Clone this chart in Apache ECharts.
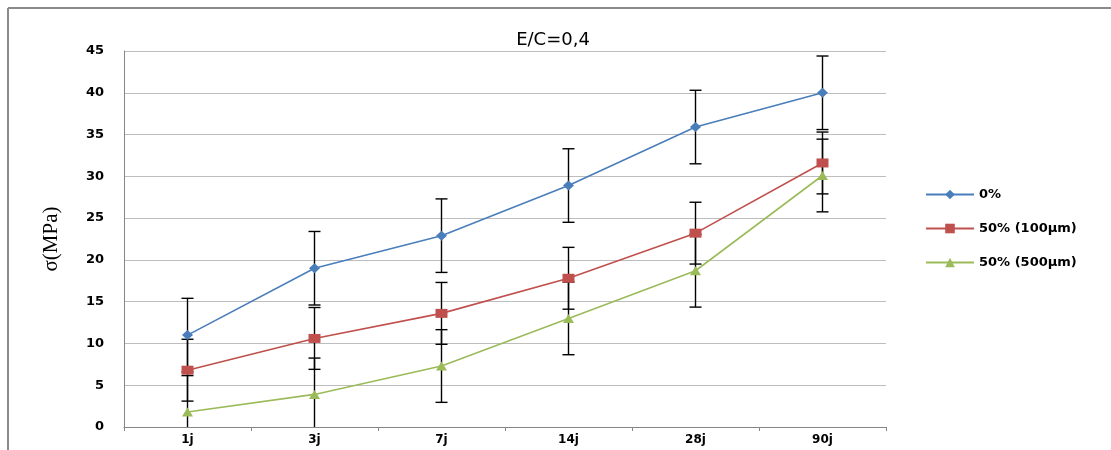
<!DOCTYPE html>
<html>
<head>
<meta charset="utf-8">
<script src="https://cdn.jsdelivr.net/npm/echarts@6/dist/echarts.min.js"></script>
<style>
html,body{margin:0;padding:0;background:#fff;}
#chart{width:1111px;height:450px;}
</style>
</head>
<body>
<div id="chart"></div>
<script>
// ---- data ----
const categories = ['1j', '3j', '7j', '14j', '28j', '90j'];
const seriesNames = ['0%', '50% (100µm)', '50% (500µm)'];
const values0 = [11.0, 19.0, 22.9, 28.9, 35.9, 40.0];
const values1 = [6.8, 10.6, 13.6, 17.8, 23.2, 31.6];
const values2 = [1.8, 3.9, 7.3, 13.0, 18.7, 30.1];
const err0 = [4.4, 4.4, 4.4, 4.4, 4.4, 4.4];
const err1 = [3.7, 3.7, 3.7, 3.7, 3.7, 3.7];
const err2 = [4.35, 4.35, 4.35, 4.35, 4.35, 4.35];
const yTicks = [0, 5, 10, 15, 20, 25, 30, 35, 40, 45];

const colors = ['#4a7ebb', '#c0504d', '#9bbb59'];
const allValues = [values0, values1, values2];
const allErr = [err0, err1, err2];

function errData(vals, errs) {
  return vals.map((v, i) => [i, v - errs[i], v + errs[i]]);
}

function renderErr(params, api) {
  const lo = api.coord([api.value(0), api.value(1)]);
  const hi = api.coord([api.value(0), api.value(2)]);
  const x = lo[0];
  const hw = 6;
  const st = { stroke: '#000', lineWidth: 1.4 };
  return {
    type: 'group',
    children: [
      { type: 'line', shape: { x1: x, y1: lo[1], x2: x, y2: hi[1] }, style: st },
      { type: 'line', shape: { x1: x - hw, y1: lo[1], x2: x + hw, y2: lo[1] }, style: st },
      { type: 'line', shape: { x1: x - hw, y1: hi[1], x2: x + hw, y2: hi[1] }, style: st }
    ]
  };
}

const symbols = ['diamond', 'rect', 'triangle'];
const symbolSizes = [[11, 10], [12, 9], [11, 9]];

const series = [];
allValues.forEach((vals, k) => {
  series.push({
    name: seriesNames[k] + ' err',
    type: 'custom',
    renderItem: renderErr,
    data: errData(vals, allErr[k]),
    clip: true,
    z: 1,
    silent: true
  });
});
allValues.forEach((vals, k) => {
  series.push({
    name: seriesNames[k],
    type: 'line',
    data: vals,
    symbol: symbols[k],
    symbolSize: symbolSizes[k],
    showAllSymbol: true,
    lineStyle: { color: colors[k], width: 1.6 },
    itemStyle: { color: colors[k] },
    z: 3
  });
});

const chart = echarts.init(document.getElementById('chart'));
chart.setOption({
  animation: false,
  backgroundColor: '#fff',
  title: {
    text: 'E/C=0,4',
    left: 548,
    textAlign: 'center',
    top: 26,
    textStyle: { fontFamily: 'DejaVu Sans', fontSize: 18, fontWeight: 'normal', color: '#000' }
  },
  graphic: [
    { type: 'line', shape: { x1: 8, y1: 8, x2: 1111, y2: 8 }, style: { stroke: '#8a8a8a', lineWidth: 2 } },
    { type: 'line', shape: { x1: 8, y1: 8, x2: 8, y2: 450 }, style: { stroke: '#8a8a8a', lineWidth: 2 } }
  ],
  legend: {
    data: seriesNames,
    orient: 'vertical',
    left: 920,
    top: 183,
    itemWidth: 48,
    itemHeight: 12,
    itemGap: 21,
    textStyle: { fontFamily: 'DejaVu Sans', fontSize: 13, fontWeight: 'bold', color: '#000' }
  },
  grid: { left: 124, right: 225, top: 51, bottom: 23, containLabel: false },
  xAxis: {
    type: 'category',
    data: categories,
    boundaryGap: true,
    axisLine: { lineStyle: { color: '#868686', width: 1 } },
    axisTick: { show: true, length: 4, lineStyle: { color: '#868686' } },
    axisLabel: { margin: 7, fontFamily: 'DejaVu Sans', fontSize: 12, fontWeight: 'bold', color: '#000' },
    splitLine: { show: false }
  },
  yAxis: {
    type: 'value',
    min: yTicks[0],
    max: yTicks[yTicks.length - 1],
    interval: 5,
    name: 'σ(MPa)',
    nameLocation: 'middle',
    nameRotate: 90,
    nameGap: 62,
    nameTextStyle: { fontFamily: 'Liberation Serif', fontSize: 21, color: '#000' },
    axisLine: { show: true, lineStyle: { color: '#868686', width: 1 } },
    axisTick: { show: false },
    axisLabel: { margin: 20, fontFamily: 'DejaVu Sans', fontSize: 13, fontWeight: 'bold', color: '#000' },
    splitLine: { lineStyle: { color: '#bdbdbd', width: 1 } }
  },
  series: series
});
</script>
</body>
</html>
